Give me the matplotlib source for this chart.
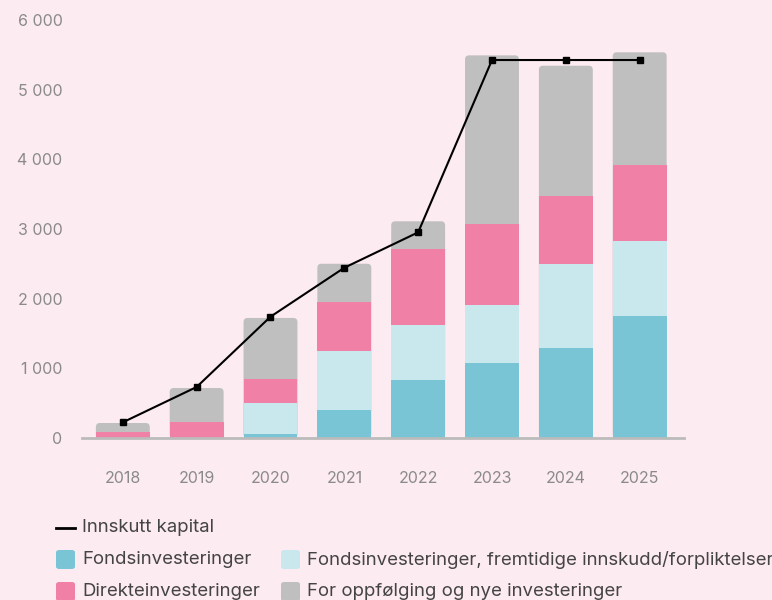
import numpy as np
import matplotlib.pyplot as plt
from matplotlib.patches import FancyBboxPatch
from matplotlib.lines import Line2D

plt.rcParams['font.family'] = ['Inter', 'DejaVu Sans']

years = ['2018', '2019', '2020', '2021', '2022', '2023', '2024', '2025']
fonds = [0, 0, 57, 402, 832, 1076, 1291, 1750]
fonds_fremtidig = [0, 0, 445, 851, 789, 832, 1205, 1076]
direkte = [86, 230, 340, 698, 1091, 1158, 972, 1091]
oppfolging = [129, 487, 880, 549, 397, 2424, 1873, 1617]
innskutt = [225, 732, 1740, 2443, 2951, 5423, 5423, 5423]

labels = ['Fondsinvesteringer', 'Fondsinvesteringer, fremtidige innskudd/forpliktelser',
          'Direkteinvesteringer', 'For oppfølging og nye investeringer']
colors = ['#79c5d5', '#c9e8ed', '#f080a5', '#bfbfbf']
bg = '#fdebf2'

fig = plt.figure(figsize=(7.72, 6), dpi=100, facecolor=bg)
ax = fig.add_axes([0.106, 0.27, 0.78, 0.697], facecolor=bg)

x = np.arange(len(years))
bw = 0.73
ax.set_xlim(-0.555, 7.6)
ax.set_ylim(0, 6000)

# total height drawn first as a rounded box, so the top segment gets round corners
totals = np.array(fonds) + np.array(fonds_fremtidig) + np.array(direkte) + np.array(oppfolging)
px_x = 0.78 * 772 / 8.155      # pixels per x unit
px_y = 0.697 * 600 / 6000      # pixels per y unit
for xi, t in zip(x, totals):
    ax.add_patch(FancyBboxPatch((xi - bw / 2, 0), bw, t,
                                boxstyle='round,pad=0,rounding_size=%f' % (4 / px_x),
                                mutation_aspect=px_x / px_y,
                                facecolor=colors[3], edgecolor='none', zorder=1))

bottom = np.zeros(len(years))
for vals, c in zip([fonds, fonds_fremtidig, direkte], colors[:3]):
    ax.bar(x, vals, width=bw, bottom=bottom, color=c, zorder=2)
    bottom += np.array(vals)

ax.plot(x, innskutt, color='black', lw=1.5, marker='s', markersize=5, zorder=3)

ax.set_xticks(x)
ax.set_xticklabels(years)
ax.set_yticks(range(0, 6001, 1000))
ax.set_yticklabels([f'{v:,}'.replace(',', ' ') for v in range(0, 6001, 1000)])
ax.tick_params(length=0, labelsize=11.5, labelcolor='#8a8a8a')
ax.tick_params(axis='x', pad=24)
ax.tick_params(axis='y', pad=14)
for s in ['top', 'right', 'left']:
    ax.spines[s].set_visible(False)
ax.spines['bottom'].set_color('#bbbbbb')
ax.spines['bottom'].set_linewidth(2)

# legend, drawn by hand
W, H = 772, 600
def fx(px): return px / W
def fy(py): return 1 - py / H

fig.add_artist(Line2D([fx(56), fx(75)], [fy(528), fy(528)], color='black', lw=2))
fig.text(fx(82), fy(528), 'Innskutt kapital', fontsize=13.4, color='#444444', va='center')

pos = [(56, 560), (281, 560), (56, 592), (281, 592)]
for (px, py), lab, c in zip(pos, labels, colors):
    fig.add_artist(FancyBboxPatch((fx(px), fy(py + 9)), fx(19), 19 / H,
                                  boxstyle='round,pad=0,rounding_size=0.004',
                                  facecolor=c, edgecolor='none'))
    fig.text(fx(px + 26), fy(py), lab, fontsize=13.4, color='#444444', va='center')

fig.savefig('out.png', dpi=100, facecolor=bg)
